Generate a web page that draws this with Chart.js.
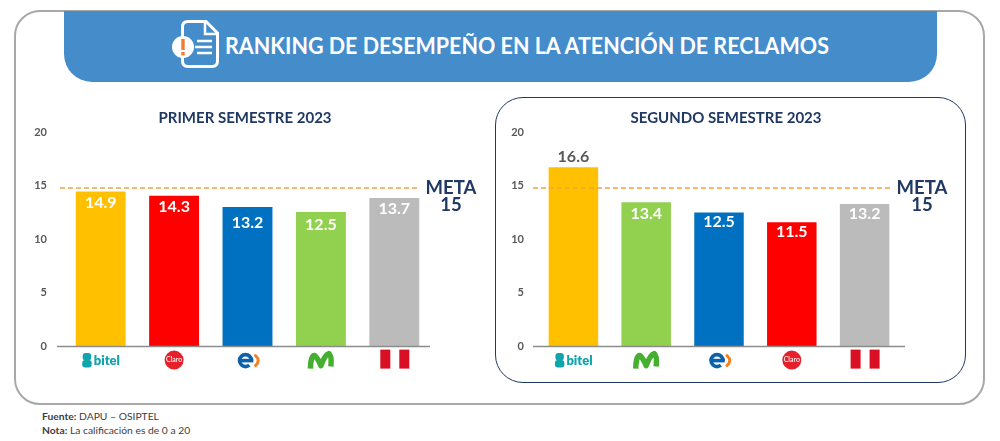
<!DOCTYPE html>
<html lang="es"><head><meta charset="utf-8"><title>Ranking</title>
<script src="https://cdn.jsdelivr.net/npm/chart.js@4/dist/chart.umd.min.js"></script>
<style>
html,body{margin:0;padding:0;background:#fff;width:1000px;height:441px;overflow:hidden;font-family:Lato,sans-serif}
.abs{position:absolute;box-sizing:border-box}
#frame{left:14px;top:10px;width:971px;height:395px;border:2px solid #a8a8a8;border-radius:26px}
#head{left:64px;top:11px;width:873px;height:71px;background:#458ccb;border-radius:0 0 28px 28px}
#ttl{left:225px;top:30px;color:#fff;font-weight:700;font-size:23px;line-height:30px;white-space:nowrap;transform:scaleX(.934);transform-origin:left center}
#panel{left:495px;top:97px;width:471px;height:286px;border:1.5px solid #1f3864;border-radius:28px}
#foot{left:42px;top:410px;font-size:10.3px;line-height:13.5px;color:#404040}
canvas{position:absolute}
</style></head><body>
<div class="abs" id="frame"></div>
<div class="abs" id="head"></div>
<svg class="abs" style="left:0;top:0" width="1000" height="100" viewBox="0 0 1000 100">
<path d="M188 21.5H206L217.5 33V61Q217.5 66.5 212 66.5H188Q182.5 66.5 182.5 61V27Q182.5 21.5 188 21.5Z" fill="none" stroke="#fff" stroke-width="3"/>
<path d="M205 22V34H217" fill="none" stroke="#fff" stroke-width="2.5"/>
<circle cx="183" cy="47" r="11" fill="#fff"/>
<rect x="181.3" y="39" width="3.4" height="11" fill="#ed7d31"/><rect x="181.3" y="52" width="3.4" height="3.4" fill="#ed7d31"/>
<path d="M197 41H212M195 47H212M197 53H212" stroke="#fff" stroke-width="2.5"/>
</svg>
<div class="abs" id="ttl">RANKING DE DESEMPEÑO EN LA ATENCIÓN DE RECLAMOS</div>
<div class="abs" id="panel"></div>
<canvas id="c1" style="left:5px;top:100px" width="480" height="290"></canvas>
<canvas id="c2" style="left:486px;top:100px" width="480" height="290"></canvas>
<div class="abs" id="foot"><b>Fuente:</b> DAPU – OSIPTEL<br><b>Nota:</b> La calificación es de 0 a 20</div>
<script>
// Data
const yTicks = [0, 5, 10, 15, 20];
const metaLabel = ['META', '15'];
const metaLevel = 14.77;
const titleH1 = 'PRIMER SEMESTRE 2023';
const titleH2 = 'SEGUNDO SEMESTRE 2023';
const categoriesH1 = ['bitel', 'Claro', 'Entel', 'Movistar', 'Perú'];
const categoriesH2 = ['bitel', 'Movistar', 'Entel', 'Claro', 'Perú'];
// printed labels
const labelsH1 = [14.9, 14.3, 13.2, 12.5, 13.7];
const labelsH2 = [16.6, 13.4, 12.5, 11.5, 13.2];
// bar heights as drawn in the reference, against its axis
const heightsH1 = [14.45, 14.07, 13.0, 12.55, 13.85];
const heightsH2 = [16.72, 13.46, 12.5, 11.6, 13.3];
const brand = {bitel:'#FFC000', Claro:'#FF0000', Entel:'#0070C0', Movistar:'#92D050', 'Perú':'#BBBBBB'};

const FONT = 'Lato, sans-serif';
function logo(c, name, x, y){
  c.save();
  if(name==='bitel'){
    c.fillStyle='#10a5ad';
    c.beginPath();c.roundRect(x-18,y-8.5,8.5,7.5,3);c.fill();
    c.beginPath();c.roundRect(x-18.5,y-1.5,9.5,7.5,3);c.fill();
    c.font='800 13px '+FONT;c.textAlign='left';c.textBaseline='middle';
    c.fillText('bitel',x-7,y-0.5);
  } else if(name==='Claro'){
    c.fillStyle='#e5202b';c.beginPath();c.arc(x,y-1.5,9.5,0,7);c.fill();
    c.fillStyle='#fff';c.font='500 7px '+FONT;c.textAlign='center';c.textBaseline='middle';
    c.fillText('Claro',x,y-1.5);
  } else if(name==='Entel'){
    c.strokeStyle='#0a62ad';c.lineWidth=3.6;
    c.beginPath();c.arc(x-2,y-1,6,0,Math.PI*0.28,true);c.stroke();
    c.beginPath();c.moveTo(x-7,y-1);c.lineTo(x+5.8,y-1);c.stroke();
    c.strokeStyle='#f58220';c.lineWidth=3;c.lineCap='round';
    c.beginPath();c.moveTo(x+8,y-6);c.quadraticCurveTo(x+13.5,y-1,x+8,y+4);c.stroke();
  } else if(name==='Movistar'){
    c.strokeStyle='#45b02f';c.lineWidth=5.5;c.lineJoin='round';
    c.beginPath();c.moveTo(x-10.5,y+7);c.quadraticCurveTo(x-10,y-7,x-6,y-6);
    c.quadraticCurveTo(x-3,y-3,x,y+4);c.quadraticCurveTo(x+4,y-7,x+8,y-8);
    c.quadraticCurveTo(x+11,y-6,x+10,y+5);c.stroke();
  } else {
    c.fillStyle='#d91023';
    c.fillRect(x-14,y-12,10,19);c.fillRect(x+5,y-12,10,19);
  }
  c.restore();
}
const deco = {
  id:'deco',
  afterDatasetsDraw(ch){
    const o = ch.options.plugins.deco, c = ch.ctx, ys = ch.scales.y, xs = ch.scales.x;
    const y0 = ys.getPixelForValue(0);
    c.save();
    c.strokeStyle='#8c8c8c';c.lineWidth=1.5;
    c.beginPath();c.moveTo(o.axis[0],y0);c.lineTo(o.axis[1],y0);c.stroke();
    c.strokeStyle='#f4a340';c.lineWidth=1.5;c.setLineDash([5,3]);
    const ym = ys.getPixelForValue(metaLevel);
    c.beginPath();c.moveTo(o.meta[0],ym);c.lineTo(o.meta[1],ym);c.stroke();
    c.setLineDash([]);
    c.fillStyle='#1f3864';c.font='700 18.5px '+FONT;c.textAlign='center';c.textBaseline='middle';
    c.fillText(metaLabel[0],o.metaX,ym-0.5);
    c.fillText(metaLabel[1],o.metaX,ym+16.5);
    ch.getDatasetMeta(0).data.forEach((b,i)=>{
      c.font='700 16px '+FONT;
      const outside = o.labels[i] > 15;
      c.fillStyle = outside ? '#595959' : '#fff';
      c.fillText(o.labels[i].toFixed(1), b.x, outside ? b.y-10 : b.y+o.drop[i]);
      logo(c, o.names[i], xs.getPixelForValue(i), y0+15);
    });
    c.restore();
  }
};
function make(id, title, names, heights, labels, drop, left, padR, tickPad, axis, meta, metaX){
  new Chart(document.getElementById(id), {
    type:'bar',
    data:{labels:names, datasets:[{data:heights, backgroundColor:names.map(n=>brand[n]),
      categoryPercentage:1, barPercentage:0.68}]},
    options:{
      responsive:false, animation:false,
      layout:{padding:{bottom:43.7-8.3}},
      plugins:{legend:{display:false},tooltip:{enabled:false},
        title:{display:true,text:title,color:'#1f3864',font:{family:FONT,size:15,weight:'700',lineHeight:1.2},padding:{top:9.5,bottom:4.5}},
        deco:{labels,names,drop,axis,meta,metaX}},
      scales:{
        x:{type:'category',grid:{display:false},border:{display:false},ticks:{display:false}},
        y:{min:0,max:20,afterFit(s){s.width=left;},
          afterBuildTicks(s){s.ticks=yTicks.map(v=>({value:v}));},
          grid:{display:false},border:{display:false},
          ticks:{padding:tickPad,color:'#595959',font:{family:FONT,size:11,weight:'700'}}},
        spacer:{axis:'y',position:'right',afterFit(s){s.width=padR;},
          grid:{display:false},border:{display:false},ticks:{display:false}}
      }
    },
    plugins:[deco]
  });
}
make('c1',titleH1,categoriesH1,heightsH1,labelsH1,[11.5,11.5,16,13,11],59,54,9,[52,425],[55,415],446);
make('c2',titleH2,categoriesH2,heightsH2,labelsH2,[12,11.5,9.5,10,10],51,65,5,[47,419],[47,407],436);
</script>
</body></html>
